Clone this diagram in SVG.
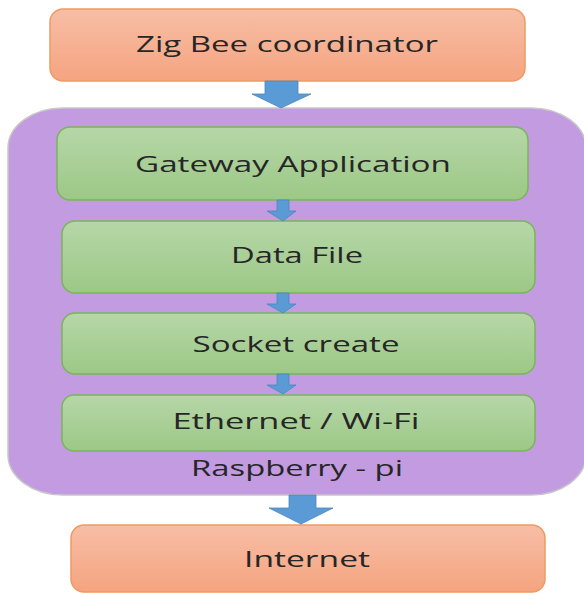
<svg xmlns="http://www.w3.org/2000/svg" width="584" height="594" viewBox="0 0 584 594">
<defs>
<linearGradient id="og" x1="0" y1="0" x2="0" y2="1"><stop offset="0" stop-color="#f7bea6"/><stop offset="1" stop-color="#f5a47f"/></linearGradient>
<linearGradient id="gg" x1="0" y1="0" x2="0" y2="1"><stop offset="0" stop-color="#b6d7a8"/><stop offset="1" stop-color="#9cc886"/></linearGradient>
</defs>
<style>
.o{fill:url(#og);stroke:#f09a63;stroke-width:1.5}
.g{fill:url(#gg);stroke:#7ab55a;stroke-width:1.5}
.p{fill:#c39be1;stroke:#c8c8c8;stroke-width:1.5}
.a{fill:#5b9bd5;stroke:#4a86bd;stroke-width:0.8}
text{font-family:"Open Sans","Noto Sans",sans-serif;font-size:21px;fill:#262626;text-anchor:middle}
</style>
<g id="raspberry-pi">
<rect class="p" x="8" y="108" width="578" height="387" rx="55" ry="40"/>
<text x="297" y="476" textLength="212" lengthAdjust="spacingAndGlyphs">Raspberry - pi</text>
</g>
<g id="zigbee">
<rect class="o" x="50" y="9" width="475" height="72" rx="13"/>
<text x="287" y="52" textLength="302" lengthAdjust="spacingAndGlyphs">Zig Bee coordinator</text>
</g>
<g id="gateway">
<rect class="g" x="57" y="127" width="471" height="73" rx="13"/>
<text x="293" y="172" textLength="316" lengthAdjust="spacingAndGlyphs">Gateway Application</text>
</g>
<g id="datafile">
<rect class="g" x="62" y="221" width="473" height="72" rx="13"/>
<text x="297" y="263" textLength="132" lengthAdjust="spacingAndGlyphs">Data File</text>
</g>
<g id="socket">
<rect class="g" x="62" y="313" width="473" height="61" rx="13"/>
<text x="296" y="352" textLength="207" lengthAdjust="spacingAndGlyphs">Socket create</text>
</g>
<g id="ethernet">
<rect class="g" x="62" y="395" width="473" height="56" rx="12"/>
<text x="296" y="429" textLength="247" lengthAdjust="spacingAndGlyphs">Ethernet / Wi-Fi</text>
</g>
<g id="internet">
<rect class="o" x="71" y="525" width="474" height="67" rx="13"/>
<text x="307" y="567" textLength="126" lengthAdjust="spacingAndGlyphs">Internet</text>
</g>
<g id="connectors">
<polygon class="a" points="265,81 298,81 298,94 311,94 281,108 252,94 265,94"/>
<polygon class="a" points="277,200 289,200 289,211 296,211 283,221 267,211 277,211"/>
<polygon class="a" points="277,293 289,293 289,304 296,304 283,313 267,304 277,304"/>
<polygon class="a" points="277,374 289,374 289,385 296,385 283,394 267,385 277,385"/>
<polygon class="a" points="289,495 316,495 316,508 333,508 301,524 269,508 289,508"/>
</g>
</svg>
